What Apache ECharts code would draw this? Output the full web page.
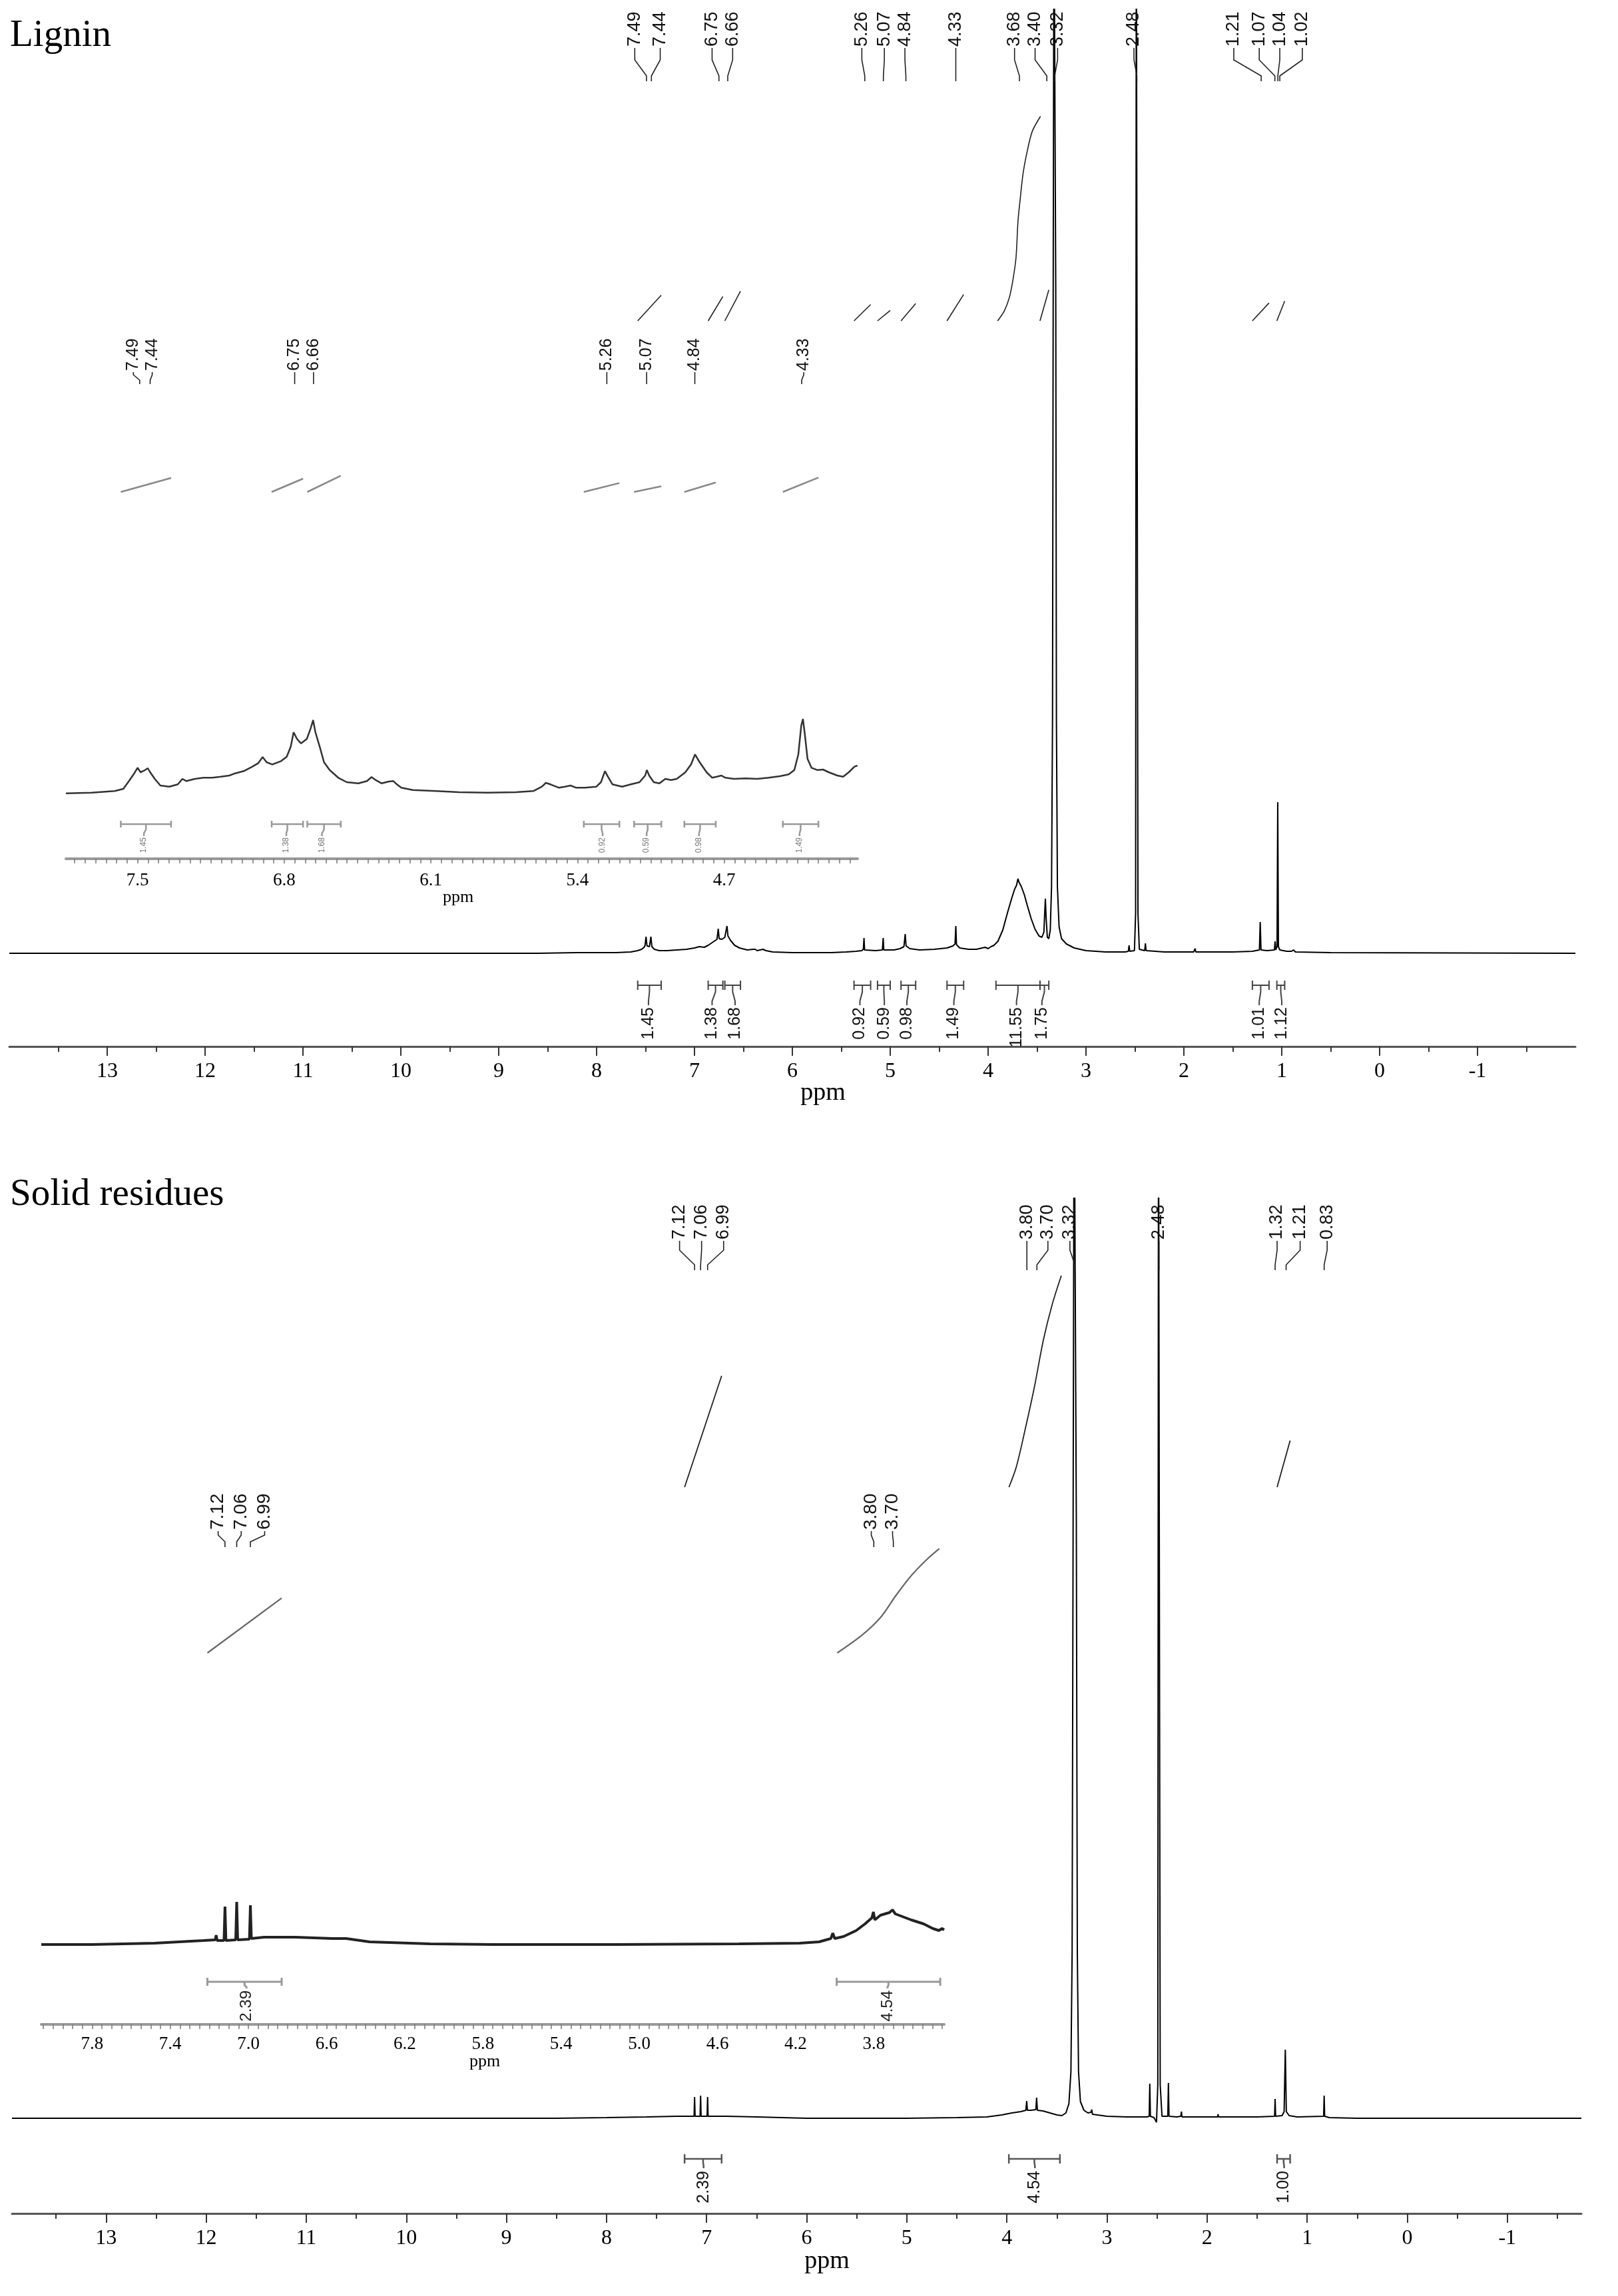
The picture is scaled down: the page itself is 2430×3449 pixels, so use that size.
<!DOCTYPE html>
<html><head><meta charset="utf-8">
<script src="https://cdn.jsdelivr.net/npm/echarts@6/dist/echarts.min.js"></script>
<style>html,body{margin:0;padding:0;background:#fff}#c{width:2430px;height:3449px}</style>
</head><body><div id="c"></div>
<script>
// ===================== DATA =====================
// Lignin – full spectrum trace [ppm, intensity above baseline]
const ligninTrace = [
[14.0,0],[8.6,0],[8.2,1],[7.8,1],[7.65,2],[7.58,4],[7.54,6],[7.515,9],[7.505,12],[7.495,25],[7.485,11],[7.46,10],[7.45,12],[7.445,25],[7.435,10],
[7.41,6],[7.36,4],[7.28,4],[7.18,5],[7.08,6],[7.0,8],[6.95,10],[6.9,9],[6.86,12],[6.81,17],[6.77,21],[6.757,37],[6.748,22],[6.72,21],[6.69,24],
[6.668,41],[6.658,26],[6.63,19],[6.59,12],[6.54,8],[6.46,5],[6.4,6],[6.38,6],[6.36,4],[6.33,5],[6.3,6],[6.27,4],[6.2,2],[6.0,1],[5.6,1],[5.45,2],
[5.35,3],[5.29,4],[5.275,6],[5.268,23],[5.262,5],[5.15,4],[5.08,5],[5.072,23],[5.066,5],[4.96,5],[4.9,7],[4.86,10],[4.847,29],[4.838,11],[4.8,7],
[4.7,5],[4.55,6],[4.42,8],[4.36,11],[4.338,14],[4.33,41],[4.323,13],[4.29,8],[4.2,6],[4.12,6],[4.06,8],[4.03,9],[4.0,7],[3.97,10],[3.94,12],
[3.9,18],[3.85,35],[3.8,62],[3.76,82],[3.73,96],[3.71,102],[3.695,112],[3.685,107],[3.66,100],[3.63,88],[3.6,72],[3.56,52],[3.52,36],[3.48,26],
[3.45,24],[3.43,32],[3.422,60],[3.415,82],[3.408,55],[3.395,24],[3.38,22],[3.365,35],[3.352,100],[3.342,350],[3.335,1000],[3.327,1600],[3.317,1600],
[3.309,1000],[3.302,350],[3.292,100],[3.275,40],[3.25,22],[3.2,14],[3.12,8],[3.0,4],[2.8,2],[2.6,2],[2.567,3],[2.56,12],[2.553,3],[2.505,4],
[2.493,60],[2.486,1600],[2.476,1600],[2.469,60],[2.455,6],[2.4,4],[2.393,15],[2.386,4],[2.2,2],[1.9,2],[1.885,7],[1.878,2],[1.5,2],[1.3,3],
[1.228,5],[1.22,47],[1.212,5],[1.15,4],[1.075,5],[1.068,18],[1.061,5],[1.048,10],[1.041,227],[1.034,10],[1.02,5],[0.95,3],[0.9,3],[0.88,5],
[0.86,2],[0.5,1],[-2.0,0]
];
// Lignin – expanded inset trace
const ligninInsetTrace = [
[7.842,3.3],[7.719,4.3],[7.609,6.7],[7.568,10],[7.541,21.7],[7.519,31.7],[7.500,41.7],[7.486,35],[7.467,37.7],[7.451,41],[7.440,35],[7.418,25],
[7.391,15],[7.349,13.3],[7.308,16.7],[7.286,25],[7.267,21.7],[7.226,25],[7.185,26.7],[7.144,26.7],[7.103,28.3],[7.062,30],[7.034,33.3],[6.993,36.7],
[6.952,43.3],[6.925,48.3],[6.903,57.7],[6.884,50],[6.857,46.7],[6.815,51.7],[6.788,58.3],[6.769,73.3],[6.755,95],[6.739,85],[6.720,78.3],[6.692,85],
[6.673,101.7],[6.662,113.3],[6.651,95],[6.629,71.7],[6.610,50],[6.583,38.3],[6.542,26.7],[6.501,20],[6.446,18.3],[6.405,21.7],[6.383,27.7],[6.364,23.3],
[6.336,18.3],[6.301,21],[6.279,21.7],[6.262,16.7],[6.241,11.7],[6.186,8.3],[6.076,6.7],[5.967,5],[5.830,4.3],[5.693,5],[5.611,6.7],[5.570,13.3],
[5.551,19],[5.529,16.7],[5.488,11.7],[5.460,13.3],[5.433,15],[5.406,11.7],[5.364,11.7],[5.310,13.3],[5.288,20],[5.269,36.7],[5.255,28.3],[5.233,16.7],
[5.187,13.3],[5.146,16.7],[5.104,20],[5.077,30],[5.069,38.3],[5.058,30],[5.036,20],[5.009,18.3],[4.981,25],[4.954,23.3],[4.926,25],[4.885,35],
[4.858,46.7],[4.839,61.7],[4.817,50],[4.784,35],[4.757,26.7],[4.735,28.3],[4.713,30],[4.694,26.7],[4.653,25],[4.598,25.7],[4.543,25],[4.488,26.7],
[4.434,29],[4.392,31.7],[4.365,38.3],[4.346,61.7],[4.332,105],[4.324,115],[4.316,95],[4.302,55],[4.283,41.7],[4.256,38.3],[4.228,39],[4.201,35],
[4.160,30],[4.132,28.3],[4.105,35],[4.078,43.3],[4.064,45]
];
const ligninPeaks       = [7.49,7.44,6.75,6.66,5.26,5.07,4.84,4.33,3.68,3.40,3.32,2.48,1.21,1.07,1.04,1.02];
const ligninPeakLabelAt = [7.61,7.35,6.82,6.61,5.29,5.06,4.85,4.33,3.73,3.52,3.29,2.51,1.49,1.23,1.02,0.79];
const ligninInsetPeaks       = [7.49,7.44,6.75,6.66,5.26,5.07,4.84,4.33];
const ligninInsetPeakLabelAt = [7.52,7.43,6.75,6.66,5.26,5.07,4.84,4.32];
const ligninIntStart   = [7.58,6.86,6.69,5.37,5.13,4.89,4.42,3.92,3.47,1.30,1.05];
const ligninIntEnd     = [7.34,6.71,6.53,5.20,5.00,4.74,4.25,3.47,3.38,1.13,0.97];
const ligninIntValue   = [1.45,1.38,1.68,0.92,0.59,0.98,1.49,11.55,1.75,1.01,1.12];
const ligninIntLabelAt = [7.47,6.82,6.585,5.31,5.06,4.83,4.35,3.71,3.45,1.23,1.00];
const ligninInsetIntLabelAt = [7.47,6.79,6.62,5.28,5.07,4.82,4.34];
const ligninBigIntegral = [[3.903,0],[3.835,0.56],[3.783,1.32],[3.746,2.33],[3.715,3.57],[3.695,5.6],[3.673,6.84],[3.642,8.35],[3.60,9.59],[3.549,10.7],[3.465,11.55]];
const ligninTicks   = [13,12,11,10,9,8,7,6,5,4,3,2,1,0,-1];
const ligninInsetTickLabels = [7.5,6.8,6.1,5.4,4.7];

// Solid residues
const solidTrace = [
[13.94,0],[8.5,0],[8.0,1],[7.6,2],[7.3,3],[7.125,3],[7.12,32],[7.115,3],[7.065,3],[7.06,34],[7.055,3],[6.995,3],[6.99,32],[6.985,3],[6.8,3],
[6.5,2],[6.0,0],[5.0,0],[4.5,1],[4.2,2],[4.05,5],[3.95,8],[3.86,10],[3.81,12],[3.802,26],[3.795,12],[3.76,12],[3.71,13],[3.703,31],[3.695,12],
[3.64,11],[3.57,8],[3.5,5],[3.45,4],[3.41,8],[3.38,22],[3.36,70],[3.348,250],[3.338,900],[3.328,1600],[3.316,1600],[3.306,900],[3.296,250],
[3.284,70],[3.265,25],[3.23,12],[3.19,8],[3.16,9],[3.152,13],[3.145,6],[3.0,3],[2.8,2],[2.6,2],[2.578,3],[2.572,52],[2.566,3],[2.53,1],[2.505,-6],
[2.492,50],[2.485,1600],[2.475,1600],[2.468,50],[2.45,3],[2.392,3],[2.386,53],[2.38,3],[2.3,2],[2.262,3],[2.256,10],[2.25,2],[2.0,2],[1.895,2],
[1.89,6],[1.885,2],[1.5,2],[1.325,3],[1.32,29],[1.315,3],[1.25,4],[1.23,10],[1.218,103],[1.208,10],[1.18,4],[1.1,2],[0.835,3],[0.83,34],
[0.825,3],[0.78,1],[0.5,0],[-1.74,0]
];
const solidInsetTrace = [
[8.06,0],[7.8,0],[7.48,2],[7.23,6],[7.17,7],[7.165,14],[7.16,6],[7.125,6],[7.12,57],[7.115,6],[7.065,7],[7.06,64],[7.055,7],[6.995,8],[6.99,59],
[6.985,9],[6.92,11],[6.76,11],[6.57,9],[6.5,9],[6.38,4],[6.07,1],[5.75,0],[5.12,0],[4.49,1],[4.18,2],[4.08,4],[4.02,9],[4.01,17],[4.0,9],
[3.955,12],[3.89,21],[3.845,31],[3.81,40],[3.802,49],[3.795,37],[3.766,44],[3.72,48],[3.704,52],[3.69,46],[3.672,44],[3.609,37],[3.545,31],
[3.498,24],[3.467,21],[3.451,24],[3.44,22]
];
const solidPeaks       = [7.12,7.06,6.99,3.80,3.70,3.32,2.48,1.32,1.21,0.83];
const solidPeakLabelAt = [7.27,7.05,6.83,3.80,3.59,3.37,2.48,1.30,1.07,0.80];
const solidInsetPeaks       = [7.12,7.06,6.99,3.80,3.70];
const solidInsetPeakLabelAt = [7.155,7.037,6.917,3.813,3.704];
const solidIntStart   = [7.22,3.98,1.30];
const solidIntEnd     = [6.85,3.47,1.17];
const solidIntValue   = [2.39,4.54,1.00];
const solidIntLabelAt = [7.03,3.72,1.23];
const solidInsetIntStart   = [7.21,3.99];
const solidInsetIntEnd     = [6.83,3.46];
const solidInsetIntLabelAt = [7.01,3.73];
const solidBigIntegral      = [[3.979,0],[3.905,0.44],[3.815,1.26],[3.725,2.15],[3.635,3.16],[3.546,3.93],[3.456,4.54]];
const solidInsetBigIntegral = [[3.987,0],[3.861,0.77],[3.765,1.55],[3.687,2.5],[3.608,3.37],[3.530,4.06],[3.465,4.54]];
const solidTicks = [13,12,11,10,9,8,7,6,5,4,3,2,1,0,-1];
const solidInsetTickLabels = [7.8,7.4,7.0,6.6,6.2,5.8,5.4,5.0,4.6,4.2,3.8];

// ===================== LAYOUT =====================
const SERIF = '"Liberation Serif","Times New Roman",serif';
const SANS  = '"Liberation Sans",Arial,sans-serif';

function halfSteps(a, b) { const r = []; for (let v = a; v <= b + 1e-9; v += 1) r.push(+v.toFixed(2)); return r; }
function fineSteps(a, b) { const r = []; for (let k = Math.round(a / 0.05); k <= Math.round(b / 0.05); k++) r.push(+(k * 0.05).toFixed(2)); return r; }

function mainAxis(grid, min, max, ticks) {
  return { type: 'value', gridIndex: grid, min, max, inverse: true, position: 'bottom',
    axisLine: { show: true, onZero: false, lineStyle: { color: '#555', width: 3 } },
    axisTick: { show: true, customValues: ticks, length: 14, lineStyle: { color: '#333', width: 2 } },
    axisLabel: { show: true, customValues: ticks, margin: 22, color: '#000', fontSize: 32, fontFamily: SERIF,
      formatter: v => String(Math.round(v)) },
    splitLine: { show: false } };
}
function minorAxis(grid, min, max, ticks) {
  return { type: 'value', gridIndex: grid, min, max, inverse: true, position: 'bottom',
    axisLine: { show: false, onZero: false }, axisLabel: { show: false }, splitLine: { show: false },
    axisTick: { show: true, customValues: ticks, length: 8, lineStyle: { color: '#333', width: 2 } } };
}
function insetAxis(grid, min, max, labels, ticks, margin) {
  return { type: 'value', gridIndex: grid, min, max, inverse: true, position: 'bottom',
    axisLine: { show: true, onZero: false, lineStyle: { color: '#999', width: 4 } },
    axisTick: { show: true, customValues: ticks, length: 7, lineStyle: { color: '#777', width: 1.5 } },
    axisLabel: { show: true, customValues: labels, margin, color: '#000', fontSize: 27, fontFamily: SERIF,
      formatter: v => v.toFixed(1) },
    splitLine: { show: false } };
}
function hiddenY(grid, min, max) { return { type: 'value', gridIndex: grid, min, max, show: false, splitLine: { show: false } }; }

function trace(xi, yi, data, color, width) {
  return { type: 'line', xAxisIndex: xi, yAxisIndex: yi, data, symbol: 'none', clip: true, silent: true,
    lineStyle: { color, width }, emphasis: { disabled: true }, z: 3 };
}
function peakLabels(xi, yi, peaks, at, yB, segs, fontSize) {
  return { type: 'custom', xAxisIndex: xi, yAxisIndex: yi, clip: false, silent: true, z: 6,
    data: peaks.map((p, i) => [p, at[i]]),
    renderItem(params, api) {
      const px = api.coord([api.value(0), 0])[0];
      const lx = api.coord([api.value(1), 0])[0];
      return { type: 'group', children: [
        { type: 'text', x: lx, y: yB, rotation: Math.PI / 2,
          style: { text: peaks[params.dataIndex].toFixed(2), fontSize, fontFamily: SANS, fill: '#111', align: 'left', verticalAlign: 'middle' } },
        { type: 'polyline', shape: { points: [[lx, yB + segs[0]], [lx, yB + segs[1]], [px, yB + segs[2]], [px, yB + segs[3]]] },
          style: { stroke: '#222', lineWidth: 1.6, fill: null } }
      ] };
    } };
}
function brackets(xi, yi, starts, ends, at, values, by, cfg) {
  return { type: 'custom', xAxisIndex: xi, yAxisIndex: yi, clip: false, silent: true, z: 6,
    data: starts.map((s, i) => [s, ends[i]]),
    renderItem(params, api) {
      const i = params.dataIndex;
      const x1 = api.coord([starts[i], 0])[0], x2 = api.coord([ends[i], 0])[0];
      const cx = (x1 + x2) / 2, lx = api.coord([at[i], 0])[0];
      const st = { stroke: cfg.color, lineWidth: cfg.lw, fill: null };
      return { type: 'group', children: [
        { type: 'line', shape: { x1, y1: by, x2, y2: by }, style: st },
        { type: 'line', shape: { x1, y1: by - cfg.cap, x2: x1, y2: by + cfg.cap }, style: st },
        { type: 'line', shape: { x1: x2, y1: by - cfg.cap, x2, y2: by + cfg.cap }, style: st },
        { type: 'polyline', shape: { points: [[cx, by], [cx, by + cfg.t[0]], [lx, by + cfg.t[1]], [lx, by + cfg.t[2]]] }, style: st },
        { type: 'text', x: lx, y: by + cfg.tt, rotation: Math.PI / 2,
          style: { text: values[i].toFixed(2), fontSize: cfg.fs, fontFamily: SANS, fill: cfg.textColor, align: 'right', verticalAlign: 'middle' } }
      ] };
    } };
}
function integralCurves(xi, yi, curves, color, width) {
  return { type: 'custom', xAxisIndex: xi, yAxisIndex: yi, clip: false, silent: true, z: 4,
    data: curves.map(c => c[0]),
    renderItem(params, api) {
      const pts = curves[params.dataIndex].map(p => api.coord(p));
      return { type: 'polyline', shape: { points: pts, smooth: pts.length > 2 ? 0.3 : 0 }, style: { stroke: color, lineWidth: width, fill: null } };
    } };
}
function straightCurves(starts, ends, values, big, bigIdx) {
  return starts.map((s, i) => (i === bigIdx ? big : [[s, 0], [ends[i], values[i]]]));
}

// pixel geometry (full-size image)
const G0 = { left: 14, top: 14, width: 2352, axisY: 1572, baseY: 1432, intBase: 482, intScale: 26.6 };
const G1 = { left: 99, top: 480, width: 1189, axisY: 1290, baseY: 1195, intBase: 739, intScale: 14.5 };
const G2 = { left: 18, top: 1800, width: 2357, axisY: 3325, baseY: 3182, intBase: 2234, intScale: 70 };
const G3 = { left: 62, top: 2200, width: 1356, axisY: 3041, baseY: 2921, intBase: 2483, intScale: 34.5 };
const grids = [G0, G1, G2, G3].map(g => ({ left: g.left, top: g.top, width: g.width, height: g.axisY - g.top }));
function yPair(grid, g) {
  return [hiddenY(grid, -(g.axisY - g.baseY), g.baseY - g.top),
          hiddenY(grid, -(g.axisY - g.intBase) / g.intScale, (g.intBase - g.top) / g.intScale)];
}

const option = {
  animation: false,
  backgroundColor: '#fff',
  grid: grids,
  xAxis: [
    mainAxis(0, -2, 14, ligninTicks),
    minorAxis(0, -2, 14, halfSteps(-1.5, 13.5)),
    insetAxis(1, 4.063, 7.842, ligninInsetTickLabels, fineSteps(4.10, 7.80), 19),
    mainAxis(2, -1.74, 13.94, solidTicks),
    minorAxis(2, -1.74, 13.94, halfSteps(-1.5, 13.5)),
    insetAxis(3, 3.44, 8.06, solidInsetTickLabels, fineSteps(3.45, 8.05), 16)
  ],
  yAxis: [...yPair(0, G0), ...yPair(1, G1), ...yPair(2, G2), ...yPair(3, G3)],
  graphic: [
    { type: 'text', x: 15, y: 54, style: { text: 'Lignin', fontSize: 57, fontFamily: SERIF, fill: '#000', verticalAlign: 'middle' } },
    { type: 'text', x: 15, y: 1795, style: { text: 'Solid residues', fontSize: 57, fontFamily: SERIF, fill: '#000', verticalAlign: 'middle' } },
    { type: 'text', x: 1236, y: 1642, style: { text: 'ppm', fontSize: 38, fontFamily: SERIF, fill: '#000', align: 'center', verticalAlign: 'middle' } },
    { type: 'text', x: 1242, y: 3397, style: { text: 'ppm', fontSize: 38, fontFamily: SERIF, fill: '#000', align: 'center', verticalAlign: 'middle' } },
    { type: 'text', x: 688, y: 1348, style: { text: 'ppm', fontSize: 26, fontFamily: SERIF, fill: '#000', align: 'center', verticalAlign: 'middle' } },
    { type: 'text', x: 728, y: 3097, style: { text: 'ppm', fontSize: 26, fontFamily: SERIF, fill: '#000', align: 'center', verticalAlign: 'middle' } }
  ],
  series: [
    trace(0, 0, ligninTrace, '#000', 2),
    trace(2, 2, ligninInsetTrace, '#333', 2.5),
    trace(3, 4, solidTrace, '#000', 2),
    trace(5, 6, solidInsetTrace, '#222', 4),
    peakLabels(0, 0, ligninPeaks, ligninPeakLabelAt, 70, [2, 20, 44, 52], 27),
    peakLabels(2, 2, ligninInsetPeaks, ligninInsetPeakLabelAt, 557, [2, 6, 14, 20], 25),
    peakLabels(3, 4, solidPeaks, solidPeakLabelAt, 1862, [2, 16, 38, 46], 27),
    peakLabels(5, 6, solidInsetPeaks, solidInsetPeakLabelAt, 2298, [2, 8, 18, 26], 28),
    brackets(0, 0, ligninIntStart, ligninIntEnd, ligninIntLabelAt, ligninIntValue, 1480,
      { color: '#444', lw: 2, cap: 7, t: [10, 24, 30], tt: 33, fs: 25, textColor: '#111' }),
    brackets(2, 2, ligninIntStart.slice(0, 7), ligninIntEnd.slice(0, 7), ligninInsetIntLabelAt, ligninIntValue.slice(0, 7), 1238,
      { color: '#999', lw: 2.5, cap: 5, t: [8, 14, 18], tt: 20, fs: 12, textColor: '#777' }),
    brackets(3, 4, solidIntStart, solidIntEnd, solidIntLabelAt, solidIntValue, 3243,
      { color: '#555', lw: 2.5, cap: 7, t: [6, 10, 14], tt: 18, fs: 25, textColor: '#111' }),
    brackets(5, 6, solidInsetIntStart, solidInsetIntEnd, solidInsetIntLabelAt, solidIntValue.slice(0, 2), 2977,
      { color: '#999', lw: 3, cap: 6, t: [5, 8, 10], tt: 13, fs: 24, textColor: '#222' }),
    integralCurves(0, 1, straightCurves(ligninIntStart, ligninIntEnd, ligninIntValue, ligninBigIntegral, 7), '#222', 1.6),
    integralCurves(2, 3, straightCurves(ligninIntStart.slice(0, 7), ligninIntEnd.slice(0, 7), ligninIntValue.slice(0, 7), null, -1), '#888', 2.5),
    integralCurves(3, 5, straightCurves(solidIntStart, solidIntEnd, solidIntValue, solidBigIntegral, 1), '#222', 1.8),
    integralCurves(5, 7, straightCurves(solidInsetIntStart, solidInsetIntEnd, solidIntValue.slice(0, 2), solidInsetBigIntegral, 1), '#666', 2.2)
  ]
};

const chart = echarts.init(document.getElementById('c'), null, { renderer: 'canvas', width: 2430, height: 3449 });
chart.setOption(option);
</script>
</body></html>
